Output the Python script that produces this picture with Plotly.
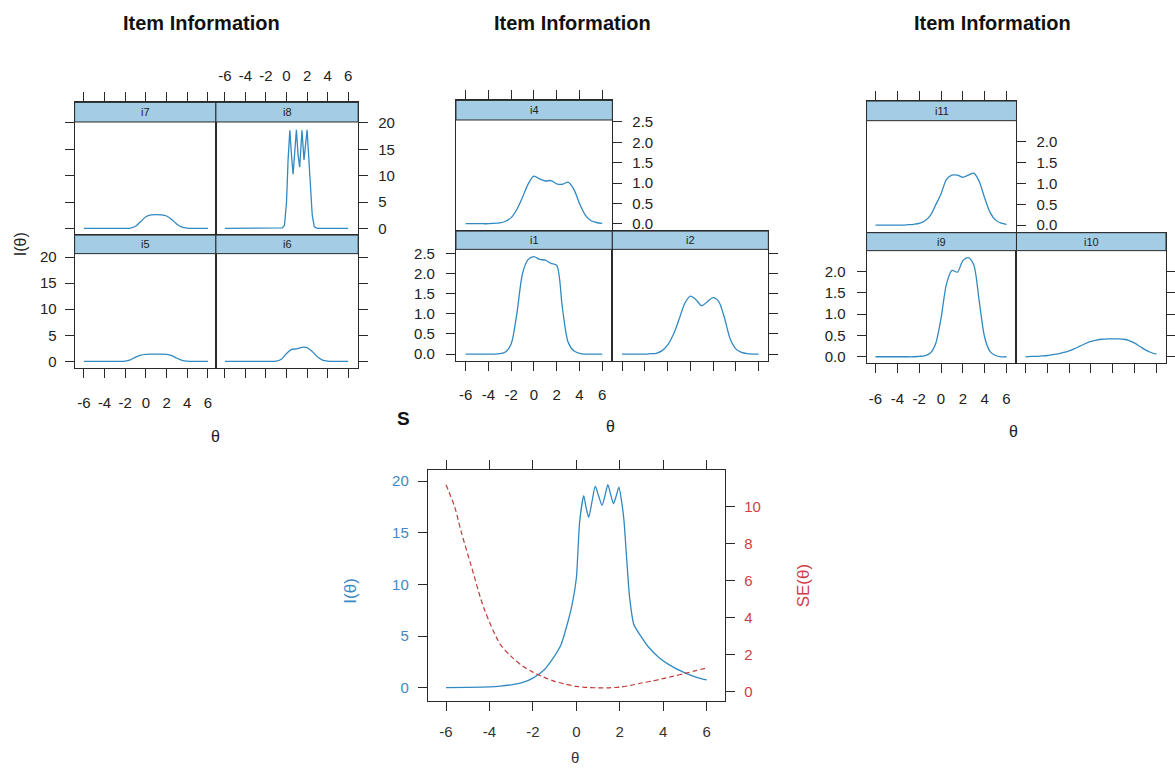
import plotly.graph_objects as go

W, H = 1175, 769

# ---------------- data ----------------
theta = [-6.0, -5.5, -5.0, -4.5, -4.0, -3.5, -3.0, -2.5, -2.0, -1.5, -1.0, -0.5,
         0.0, 0.5, 1.0, 1.5, 2.0, 2.5, 3.0, 3.5, 4.0, 4.5, 5.0, 5.5, 6.0]

info_i7 = [0, 0, 0, 0, 0, 0, 0, 0, 0, 0.05, 0.4, 1.3, 2.2, 2.55, 2.6, 2.55, 2.35, 1.7, 0.8, 0.25, 0.05, 0, 0, 0, 0]
info_i5 = [0, 0, 0, 0, 0, 0, 0, 0, 0.05, 0.3, 0.8, 1.2, 1.35, 1.4, 1.4, 1.4, 1.35, 1.1, 0.6, 0.2, 0.05, 0, 0, 0, 0]
info_i6 = [0, 0, 0, 0, 0, 0, 0, 0, 0, 0, 0.05, 0.4, 1.5, 2.3, 2.4, 2.7, 2.65, 1.9, 0.9, 0.25, 0.05, 0, 0, 0, 0]

theta_i8 = [-6.0, -3.0, -1.0, -0.4, -0.2, 0.0, 0.15, 0.32, 0.48, 0.64, 0.8, 0.96, 1.12, 1.28,
            1.5, 1.7, 2.0, 2.2, 2.35, 2.5, 2.7, 3.0, 4.0, 6.0]
info_i8 = [0, 0, 0, 0.1, 0.6, 5, 13, 18.6, 14, 10.3, 14.5, 18.7, 14, 11.6,
           18.6, 13, 18.7, 13, 7, 2.5, 0.3, 0, 0, 0]

info_i4 = [0, 0, 0, 0, 0, 0.01, 0.02, 0.06, 0.15, 0.35, 0.65, 0.98, 1.17, 1.1, 1.05, 1.06, 0.98, 0.97, 1.02, 0.85, 0.5, 0.22, 0.08, 0.03, 0.01]
info_i1 = [0, 0, 0, 0, 0, 0, 0.01, 0.05, 0.25, 1.0, 2.0, 2.35, 2.42, 2.35, 2.33, 2.25, 2.2, 1.15, 0.3, 0.08, 0.02, 0, 0, 0, 0]
info_i2 = [0, 0, 0, 0, 0, 0.01, 0.02, 0.08, 0.22, 0.48, 0.85, 1.25, 1.44, 1.35, 1.2, 1.3, 1.4, 1.3, 0.9, 0.38, 0.13, 0.04, 0.01, 0, 0]

info_i11 = [0, 0, 0, 0, 0, 0, 0.01, 0.02, 0.04, 0.1, 0.22, 0.48, 0.75, 1.1, 1.2, 1.2, 1.15, 1.2, 1.25, 1.05, 0.65, 0.3, 0.12, 0.05, 0.02]
info_i9 = [0, 0, 0, 0, 0, 0, 0, 0, 0.01, 0.02, 0.08, 0.3, 0.9, 1.7, 2.02, 1.98, 2.25, 2.32, 2.15, 1.3, 0.45, 0.12, 0.03, 0, 0]
info_i10 = [0, 0.01, 0.01, 0.02, 0.03, 0.05, 0.07, 0.1, 0.14, 0.19, 0.25, 0.31, 0.36, 0.39, 0.41, 0.42, 0.42, 0.42, 0.41, 0.38, 0.32, 0.24, 0.16, 0.1, 0.06]

theta_test = [-6.0, -5.0, -4.0, -3.5, -3.0, -2.5, -2.0, -1.5, -1.0, -0.7,
              -0.4, -0.2, 0.0, 0.15, 0.34, 0.45, 0.57, 0.72, 0.87, 1.02,
              1.18, 1.32, 1.45, 1.58, 1.71, 1.84, 1.96, 2.1, 2.2, 2.3,
              2.45, 2.65, 3.0, 3.3, 3.8, 4.3, 5.0, 5.5, 6.0]
info_test = [0.02, 0.05, 0.1, 0.17, 0.3, 0.5, 0.95, 1.7, 3.1, 4.2,
             6.3, 8.0, 10.6, 16.0, 18.6, 17.4, 16.5, 18.0, 19.5, 18.6,
             17.65, 18.6, 19.65, 18.7, 17.8, 18.6, 19.4, 17.8, 16.0, 13.0,
             8.8, 6.1, 4.9, 4.0, 2.95, 2.2, 1.45, 1.05, 0.77]

theta_se = [-6.0, -5.6, -5.3, -4.85, -4.25, -3.5, -3.0, -2.5, -2.0, -1.5, -1.0, -0.5,
            0.0, 0.5, 1.0, 1.5, 2.0, 2.5, 3.0, 3.5, 4.0, 4.5, 5.0, 5.5, 6.0]
se_test = [11.2, 10.0, 8.65, 6.85, 4.5, 2.55, 1.9, 1.4, 1.05, 0.78, 0.55, 0.4,
           0.28, 0.22, 0.2, 0.2, 0.24, 0.33, 0.46, 0.57, 0.7, 0.84, 0.98, 1.13, 1.28]

theta_ticks = [-6, -4, -2, 0, 2, 4, 6]
theta_ticktext = ["-6", "-4", "-2", "0", "2", "4", "6"]
big_ticks = [0, 5, 10, 15, 20]
small_ticks = [0.0, 0.5, 1.0, 1.5, 2.0, 2.5]
small_ticks_b = [0.0, 0.5, 1.0, 1.5, 2.0]
se_ticks = [0, 2, 4, 6, 8, 10]

titles = ["Item Information", "Item Information", "Item Information"]

# ---------------- style ----------------
LINE = "#3189c2"
STRIP = "#a2cde5"
AX = "#2a2a2a"
NARROW = "Liberation Sans Narrow, Arial Narrow, Liberation Sans, Arial, sans-serif"
SANS = "Liberation Sans, Arial, sans-serif"
tfont = dict(family=NARROW, size=15, color="#222222")

fig = go.Figure()
layout = {}
shapes = []
annotations = []
counter = [0]


def ids():
    counter[0] += 1
    k = counter[0]
    s = "" if k == 1 else str(k)
    return "xaxis" + s, "yaxis" + s, "x" + s, "y" + s


def panel(xs, ys, label, x_l, x_r, y_top, y_strip, y_bot, xcal, ycal, yticks,
          xside, xlab, yside, ylab, xstand, ystand, spline=True):
    xa, ya, xr, yr = ids()
    pm6, p6 = xcal
    ppx = (p6 - pm6) / 12.0
    xrange = [-6 - (pm6 - x_l) / ppx, 6 + (x_r - p6) / ppx]
    v0, p0, v1, p1 = ycal
    ppy = (p0 - p1) / (v1 - v0)
    yrange = [v0 - (y_bot - p0) / ppy, v0 + (p0 - y_top) / ppy]
    common = dict(showline=True, linecolor=AX, linewidth=1, mirror=True,
                  ticks="outside", ticklen=9, tickcolor=AX, tickwidth=1,
                  showgrid=False, zeroline=False, tickfont=tfont, fixedrange=True,
                  tickangle=0)
    layout[xa] = dict(domain=[x_l / W, x_r / W], range=xrange, anchor=yr, side=xside,
                      tickvals=theta_ticks, ticktext=theta_ticktext, showticklabels=xlab,
                      ticklabelstandoff=xstand, **common)
    layout[ya] = dict(domain=[1 - y_bot / H, 1 - y_top / H], range=yrange, anchor=xr,
                      side=yside, tickvals=yticks, showticklabels=ylab,
                      tickformat=".1f" if max(yticks) < 5 else "d",
                      ticklabelstandoff=ystand, **common)
    shapes.append(dict(type="rect", xref="paper", yref="paper", layer="above",
                       x0=x_l / W, x1=x_r / W, y0=1 - y_strip / H, y1=1 - y_top / H,
                       fillcolor=STRIP, line=dict(color=AX, width=1)))
    annotations.append(dict(text=label, xref="paper", yref="paper",
                            x=(x_l + x_r) / 2 / W, y=1 - (y_top + y_strip) / 2 / H,
                            showarrow=False, font=dict(family=NARROW, size=11, color="#222222"),
                            xanchor="center", yanchor="middle"))
    line = dict(color=LINE, width=1.3)
    if spline:
        line.update(shape="spline", smoothing=0.8)
    fig.add_trace(go.Scatter(x=xs, y=ys, xaxis=xr, yaxis=yr, mode="lines", line=line,
                             showlegend=False, hoverinfo="skip"))


# ----- left block (i7, i8 / i5, i6) -----
panel(theta, info_i7, "i7", 75, 217, 102.7, 122.3, 235.7, (84.3, 209), (0, 229, 20, 123.3),
      big_ticks, "top", False, "left", False, 5, 4)
panel(theta_i8, info_i8, "i8", 217, 360, 102.7, 122.3, 235.7, (226, 350), (0, 229, 20, 123.3),
      big_ticks, "top", True, "right", True, 5, 7, spline=False)
panel(theta, info_i5, "i5", 75, 217, 235.7, 254.3, 368.5, (84.3, 209), (0, 362.3, 20, 257.7),
      big_ticks, "bottom", True, "left", True, 12, 5)
panel(theta, info_i6, "i6", 217, 360, 235.7, 254.3, 368.5, (226, 350), (0, 362.3, 20, 257.7),
      big_ticks, "bottom", False, "right", False, 12, 5)

# ----- middle block (i4 / i1, i2) -----
panel(theta, info_i4, "i4", 458.3, 615.5, 100.7, 120.3, 231.7, (468, 605.3), (0, 224.3, 2.5, 122.3),
      small_ticks, "top", False, "right", True, 6, 7)
panel(theta, info_i1, "i1", 458.3, 615.5, 231.7, 250, 362.3, (468, 605.3), (0, 355, 2.5, 254),
      small_ticks, "bottom", True, "left", True, 11, 8)
panel(theta, info_i2, "i2", 615.5, 772.3, 231.7, 250, 362.3, (625.2, 762.5), (0, 355, 2.5, 254),
      small_ticks, "bottom", False, "right", False, 11, 6)

# ----- right block (i11 / i9, i10) -----
panel(theta, info_i11, "i11", 871, 1021.7, 101.3, 121, 233.3, (880, 1011.7), (0, 225.7, 2.0, 142.3),
      small_ticks_b, "top", False, "right", True, 6, 7)
panel(theta, info_i9, "i9", 871, 1021.7, 233.3, 251.3, 364.3, (880, 1011.7), (0, 357.7, 2.0, 272),
      small_ticks_b, "bottom", True, "left", True, 13, 8)
panel(theta, info_i10, "i10", 1021.7, 1172, 233.3, 251.3, 364.3, (1030.7, 1162.4), (0, 357.7, 2.0, 272),
      small_ticks_b, "bottom", False, "right", False, 13, 6)

# ----- main test information / SE plot -----
xa, ya, xr, yr = ids()
xa2, ya2, xr2, yr2 = ids()
mx_l, mx_r, my_t, my_b = 430, 729, 471, 703.3
ppx = (710.3 - 448.3) / 12.0
mxrange = [-6 - (448.3 - mx_l) / ppx, 6 + (mx_r - 710.3) / ppx]
ppy = (689.7 - 482.3) / 20.0
myrange = [-(my_b - 689.7) / ppy, (689.7 - my_t) / ppy]
pps = (693.3 - 508.3) / 10.0
msrange = [-(my_b - 693.3) / pps, (693.3 - my_t) / pps]
mfont = dict(family=SANS, size=15, color="#333333")
layout[xa] = dict(domain=[mx_l / W, mx_r / W], range=mxrange, anchor=yr,
                  showline=True, linecolor=AX, linewidth=1, mirror="ticks",
                  ticks="outside", ticklen=9, tickcolor=AX, tickvals=theta_ticks,
                  ticktext=theta_ticktext,
                  tickfont=mfont, ticklabelstandoff=8, showgrid=False, zeroline=False,
                  tickangle=0, fixedrange=True)
layout[ya] = dict(domain=[1 - my_b / H, 1 - my_t / H], range=myrange, anchor=xr,
                  showline=True, linecolor=AX, linewidth=1, ticks="outside", ticklen=9,
                  tickcolor=AX, tickvals=big_ticks, ticklabelstandoff=6,
                  tickfont=dict(family=SANS, size=15, color="#3d89c4"),
                  showgrid=False, zeroline=False, fixedrange=True)
layout[ya2] = dict(domain=[1 - my_b / H, 1 - my_t / H], range=msrange, anchor=xr,
                   overlaying=yr, side="right",
                   showline=True, linecolor=AX, linewidth=1, ticks="outside", ticklen=9,
                   tickcolor=AX, tickvals=se_ticks, ticklabelstandoff=6,
                   tickfont=dict(family=SANS, size=15, color="#cf3d47"),
                   showgrid=False, zeroline=False, fixedrange=True)
fig.add_trace(go.Scatter(x=theta_test, y=info_test, xaxis=xr, yaxis=yr, mode="lines",
                         line=dict(color=LINE, width=1.3, shape="spline", smoothing=0.6),
                         showlegend=False, hoverinfo="skip"))
fig.add_trace(go.Scatter(x=theta_se, y=se_test, xaxis=xr, yaxis=yr2, mode="lines",
                         line=dict(color="#c23b3b", width=1.2, dash="5px,3px", shape="spline", smoothing=0.8),
                         showlegend=False, hoverinfo="skip"))


# ----- text -----
def txt(s, x, y, font, angle=0, xanchor="center"):
    annotations.append(dict(text=s, xref="paper", yref="paper", x=x / W, y=1 - y / H,
                            showarrow=False, font=font, textangle=angle,
                            xanchor=xanchor, yanchor="middle"))


tfont_title = dict(family=NARROW, size=20, color="#111111")
for t, cx in zip(titles, [203, 575, 998]):
    txt("<b>" + t + "</b>", cx, 23, tfont_title)

lab = dict(family=NARROW, size=16, color="#222222")
txt("θ", 216.7, 438, lab)
txt("θ", 614, 428, lab)
txt("θ", 1019, 433, lab)
txt("I(θ)", 20, 245, lab, angle=-90)
txt("<b>S</b>", 397, 420, dict(family=SANS, size=19, color="#111111"), xanchor="left")

txt("θ", 578, 759, dict(family=SANS, size=15, color="#333333"))
txt("I(θ)", 352, 592, dict(family=SANS, size=17, color="#3d89c4"), angle=-90)
txt("SE(θ)", 808, 587, dict(family=SANS, size=17, color="#cf3d47"), angle=-90)

fig.update_layout(**layout)
fig.update_layout(width=W, height=H, margin=dict(l=0, r=0, t=0, b=0),
                  paper_bgcolor="white", plot_bgcolor="rgba(0,0,0,0)",
                  shapes=shapes, annotations=annotations, showlegend=False)

fig.write_html("out.html", config={"displayModeBar": False, "staticPlot": True},
               post_script="document.body.style.margin='0';document.body.style.padding='0';")
